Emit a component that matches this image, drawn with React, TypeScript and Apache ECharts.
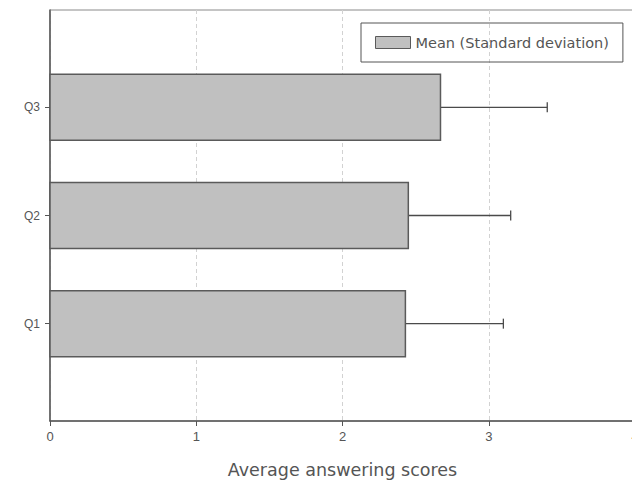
import React, { useEffect, useRef } from "react";
import * as echarts from "echarts";

// Questions, plotted bottom to top
const categories = ["Q1", "Q2", "Q3"];
// Mean score of each question
const means = [2.43, 2.45, 2.67];
// Standard deviation of each question
const stdDevs = [0.67, 0.7, 0.73];
// Value axis ticks
const xTicks = [0, 1, 2, 3, 4];
const seriesName = "Mean (Standard deviation)";

const FONT = "'Liberation Sans', Arial, sans-serif";
const WIDE_FONT = "'DejaVu Sans', sans-serif";
const BAR_FILL = "#c0c0c0";
const EDGE = "#5a5a5a";

export default function App() {
  const ref = useRef<HTMLDivElement>(null);

  useEffect(() => {
    if (!ref.current) return;
    const chart = echarts.init(ref.current, undefined, { renderer: "svg" });

    const data = means.map((m, i) => [m, i + 1, stdDevs[i]]);

    chart.setOption({
      animation: false,
      backgroundColor: "#ffffff",
      grid: {
        left: 50,
        top: 10,
        right: -3,
        bottom: 69,
        outerBoundsMode: "none",
        show: true,
        borderColor: "#8a8a8a",
        borderWidth: 1,
        backgroundColor: "transparent",
      },
      legend: {
        left: 361,
        top: 23,
        orient: "horizontal",
        padding: [12, 14, 12, 14],
        borderColor: "#555555",
        borderWidth: 1,
        itemWidth: 35,
        itemHeight: 12,
        itemGap: 10,
        textStyle: { fontFamily: WIDE_FONT, fontSize: 14.5, color: "#555555" },
        data: [
          {
            name: seriesName,
            icon: "rect",
            itemStyle: { color: BAR_FILL, borderColor: EDGE, borderWidth: 1 },
          },
        ],
      },
      xAxis: {
        type: "value",
        min: xTicks[0],
        max: xTicks[xTicks.length - 1],
        interval: 1,
        name: "Average answering scores",
        nameLocation: "middle",
        nameGap: 40,
        nameTextStyle: { fontFamily: WIDE_FONT, fontSize: 17.5, color: "#555555" },
        axisLine: { show: true, lineStyle: { color: "#555555", width: 1.5 } },
        axisTick: { show: true, length: 5, lineStyle: { color: "#555555" } },
        axisLabel: {
          fontFamily: FONT,
          fontSize: 13,
          color: "#555555",
          margin: 9,
          showMaxLabel: true,
        },
        splitLine: {
          show: true,
          lineStyle: { color: "#d2d2d2", type: [4, 3], width: 1 },
        },
      },
      yAxis: {
        type: "value",
        min: 0.1,
        max: 3.9,
        axisLine: { show: true, lineStyle: { color: "#555555", width: 1.5 } },
        axisTick: {
          show: true,
          length: 5,
          customValues: [1, 2, 3],
          lineStyle: { color: "#555555" },
        },
        axisLabel: {
          customValues: [1, 2, 3],
          fontFamily: FONT,
          fontSize: 12,
          color: "#555555",
          margin: 10,
          formatter: (v: number) => categories[Math.round(v) - 1] ?? "",
        },
        splitLine: { show: false },
      },
      series: [
        {
          name: seriesName,
          type: "custom",
          itemStyle: { color: BAR_FILL },
          encode: { x: 0, y: 1 },
          data,
          renderItem: (params: any, api: any) => {
            const mean = api.value(0);
            const pos = api.value(1);
            const sd = api.value(2);
            const start = api.coord([0, pos]);
            const end = api.coord([mean, pos]);
            const tip = api.coord([mean + sd, pos]);
            const h = api.size([0, 0.61])[1];
            return {
              type: "group",
              children: [
                {
                  type: "line",
                  shape: { x1: end[0], y1: end[1], x2: tip[0], y2: tip[1] },
                  style: { stroke: "#4a4a4a", lineWidth: 1.3 },
                },
                {
                  type: "line",
                  shape: { x1: tip[0], y1: tip[1] - 5, x2: tip[0], y2: tip[1] + 5 },
                  style: { stroke: "#4a4a4a", lineWidth: 1.3 },
                },
                {
                  type: "rect",
                  shape: {
                    x: start[0],
                    y: start[1] - h / 2,
                    width: end[0] - start[0],
                    height: h,
                  },
                  style: { fill: BAR_FILL, stroke: EDGE, lineWidth: 1.5 },
                },
              ],
            };
          },
        },
      ],
    });

    return () => chart.dispose();
  }, []);

  return (
    <div
      ref={ref}
      style={{ position: "absolute", left: 0, top: 0, width: 632, height: 490 }}
    />
  );
}
